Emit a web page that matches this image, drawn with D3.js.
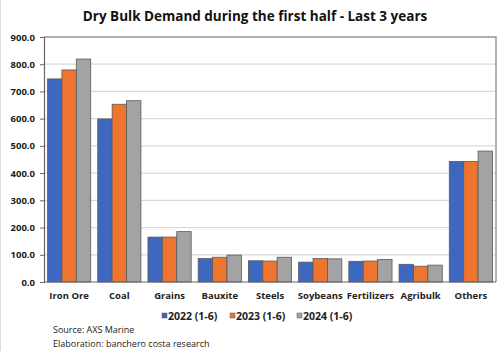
<!DOCTYPE html>
<html>
<head>
<meta charset="utf-8">
<script src="https://cdn.jsdelivr.net/npm/d3@7"></script>
<style>
  body { margin: 0; background: #fff; }
  text { font-family: "Open Sans", "DejaVu Sans", sans-serif; }
</style>
</head>
<body>
<div id="canvas"></div>
<script>
"use strict";

/* data */
let categories = ["Iron Ore", "Coal", "Grains", "Bauxite", "Steels", "Soybeans", "Fertilizers", "Agribulk", "Others"];
let seriesNames = ["2022 (1-6)", "2023 (1-6)", "2024 (1-6)"];
let values2022 = [746, 599, 165, 86, 78, 73, 76, 65, 443];
let values2023 = [779, 653, 165, 91, 77, 86, 77, 58, 443];
let values2024 = [819, 666, 185, 99, 91, 85, 83, 62, 481];
let yTicks = [0, 100, 200, 300, 400, 500, 600, 700, 800, 900];

let seriesValues = [values2022, values2023, values2024];
let colors = ["#3E68BF", "#EE7430", "#A3A3A3"];

let svgWidth = 500;
let svgHeight = 351;

let marginTop = 37;
let marginRight = 4;
let marginBottom = 69;
let marginLeft = 44;

let svg = d3.select("#canvas")
    .append("svg")
    .attr("width", svgWidth)
    .attr("height", svgHeight);

/* faint left edge of the screenshot */
svg.append("line")
    .attr("x1", 0.5).attr("x2", 0.5)
    .attr("y1", 0).attr("y2", svgHeight)
    .attr("stroke", "#dcdcdc");

/* scales */
let xScale = d3.scaleBand()
    .domain(categories)
    .range([marginLeft, svgWidth - marginRight])
    .paddingInner(0.14)
    .paddingOuter(0.07);

let xInner = d3.scaleBand()
    .domain(d3.range(seriesNames.length))
    .range([0, xScale.bandwidth()]);

let yScale = d3.scaleLinear()
    .domain([0, 900])
    .range([svgHeight - marginBottom, marginTop]);

/* gridlines */
svg.append("g")
    .selectAll("line")
    .data(yTicks.slice(1))
    .join("line")
    .attr("x1", marginLeft)
    .attr("x2", svgWidth - marginRight)
    .attr("y1", d => yScale(d))
    .attr("y2", d => yScale(d))
    .attr("stroke", "#d9d9d9")
    .attr("stroke-width", 1.2);

/* plot border (top and right) */
svg.append("path")
    .attr("d", "M" + marginLeft + "," + yScale(900) +
               "H" + (svgWidth - marginRight) +
               "V" + yScale(0))
    .attr("fill", "none")
    .attr("stroke", "#9a9a9a")
    .attr("stroke-width", 1.5);

/* bars */
let rows = [];
categories.forEach(function(c, i) {
    seriesValues.forEach(function(vals, s) {
        rows.push({cat: c, s: s, v: vals[i]});
    });
});

svg.append("g")
    .selectAll("rect")
    .data(rows)
    .join("rect")
    .attr("x", d => xScale(d.cat) + xInner(d.s))
    .attr("y", d => yScale(d.v))
    .attr("width", xInner.bandwidth())
    .attr("height", d => yScale(0) - yScale(d.v))
    .attr("fill", d => colors[d.s])
    .attr("stroke", "#5a5a5a")
    .attr("stroke-width", 0.8);

/* y axis */
let yAxis = svg.append("g")
    .attr("transform", "translate(" + marginLeft + ",0)")
    .call(d3.axisLeft(yScale)
        .tickValues(yTicks)
        .tickFormat(d3.format(".1f"))
        .tickSize(4)
        .tickPadding(5));

yAxis.select(".domain").attr("stroke", "#666").attr("stroke-width", 1.2);
yAxis.selectAll(".tick line").attr("stroke", "#666");
yAxis.selectAll("text")
    .attr("font-size", 9.5)
    .attr("font-weight", "bold")
    .attr("fill", "#222")
    .style("font-family", "'Open Sans', sans-serif");

/* x axis */
let xAxis = svg.append("g")
    .attr("transform", "translate(0," + yScale(0) + ")")
    .call(d3.axisBottom(xScale).tickSize(0).tickPadding(10));

xAxis.select(".domain")
    .attr("d", "M" + marginLeft + ",0H" + (svgWidth - marginRight))
    .attr("stroke", "#666")
    .attr("stroke-width", 1.2);
xAxis.selectAll("text")
    .attr("font-size", 9.5)
    .attr("font-weight", "bold")
    .attr("fill", "#222")
    .style("font-family", "'Open Sans', sans-serif");

/* title */
svg.append("text")
    .attr("x", 255)
    .attr("y", 21)
    .attr("text-anchor", "middle")
    .attr("font-size", 13.5)
    .attr("font-weight", "bold")
    .attr("fill", "#111")
    .text("Dry Bulk Demand during the first half - Last 3 years");

/* legend */
let legendX = [162, 230, 297];
seriesNames.forEach(function(name, i) {
    svg.append("rect")
        .attr("x", legendX[i])
        .attr("y", 313)
        .attr("width", 5)
        .attr("height", 5)
        .attr("fill", colors[i])
        .attr("stroke", "#5a5a5a")
        .attr("stroke-width", 0.5);

    svg.append("text")
        .attr("x", legendX[i] + 6)
        .attr("y", 319.5)
        .attr("font-size", 10.5)
        .attr("font-weight", "bold")
        .attr("fill", "#222")
        .text(name);
});

/* source notes */
svg.append("text")
    .attr("x", 53)
    .attr("y", 333)
    .attr("font-size", 9)
    .attr("fill", "#222")
    .text("Source: AXS Marine");

svg.append("text")
    .attr("x", 53)
    .attr("y", 347)
    .attr("font-size", 9)
    .attr("fill", "#222")
    .text("Elaboration: banchero costa research");
</script>
</body>
</html>
